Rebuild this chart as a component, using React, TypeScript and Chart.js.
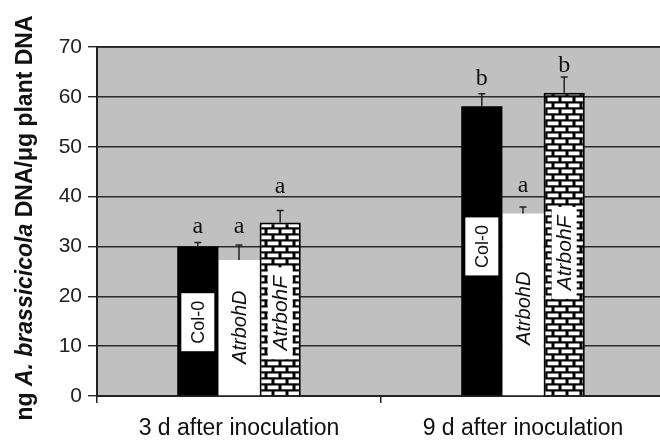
import React, { useEffect, useRef } from "react";
import { Chart, registerables } from "chart.js";

Chart.register(...registerables);

const categories = ["3 d after inoculation", "9 d after inoculation"];
const seriesNames = ["Col-0", "AtrbohD", "AtrbohF"];
const col0Values = [30.0, 58.1];
const atrbohDValues = [27.3, 36.6];
const atrbohFValues = [34.8, 60.8];
const col0Errors = [0.8, 2.5];
const atrbohDErrors = [3.0, 1.3];
const atrbohFErrors = [2.4, 3.2];
const col0Letters = ["a", "b"];
const atrbohDLetters = ["a", "a"];
const atrbohFLetters = ["a", "b"];
const yMin = 0;
const yMax = 70;
const yStep = 10;

// label placement (data units) — styling only
const letterPos = [
  [33.9, 63.7],
  [33.9, 42.1],
  [41.9, 66.3],
];
const namePos = [
  [14.8, 30.0],
  [13.8, 17.6],
  [16.6, 28.7],
];

const SANS = '"Liberation Sans", Arial, sans-serif';
const SERIF = '"Liberation Serif", "Times New Roman", serif';

function makeBrick(): CanvasPattern | string {
  const c = document.createElement("canvas");
  c.width = 14;
  c.height = 12;
  const g = c.getContext("2d");
  if (!g) return "#fff";
  g.fillStyle = "#000";
  g.fillRect(0, 0, 14, 12);
  g.fillStyle = "#fff";
  g.fillRect(1.5, 1.5, 11, 3.8);
  g.fillRect(-5.5, 7.5, 11, 3.8);
  g.fillRect(8.5, 7.5, 11, 3.8);
  const p = g.createPattern(c, "repeat");
  return p || "#fff";
}

export default function App() {
  const ref = useRef<HTMLCanvasElement>(null);
  useEffect(() => {
    document.body.style.margin = "0";
    document.body.style.overflow = "hidden";
    const canvas = ref.current;
    if (!canvas) return;
    const brick = makeBrick();
    const values = [col0Values, atrbohDValues, atrbohFValues];
    const errors = [col0Errors, atrbohDErrors, atrbohFErrors];
    const letters = [col0Letters, atrbohDLetters, atrbohFLetters];

    const decor = {
      id: "decor",
      beforeDraw(chart: any) {
        const { ctx, chartArea: a } = chart;
        ctx.save();
        ctx.fillStyle = "#ffffff";
        ctx.fillRect(0, 0, chart.width, chart.height);
        ctx.fillStyle = "#c0c0c0";
        ctx.fillRect(a.left, a.top, a.right - a.left, a.bottom - a.top);
        ctx.restore();
      },
      afterDatasetsDraw(chart: any) {
        const { ctx, chartArea: a } = chart;
        const ys = chart.scales.y;
        ctx.save();
        for (let d = 0; d < 3; d++) {
          const meta = chart.getDatasetMeta(d);
          meta.data.forEach((bar: any, i: number) => {
            const top = ys.getPixelForValue(values[d][i]);
            const et = ys.getPixelForValue(values[d][i] + errors[d][i]);
            ctx.strokeStyle = "#222";
            ctx.lineWidth = 1.5;
            ctx.beginPath();
            ctx.moveTo(bar.x, top);
            ctx.lineTo(bar.x, et);
            ctx.moveTo(bar.x - 3.5, et);
            ctx.lineTo(bar.x + 3.5, et);
            ctx.stroke();
            ctx.fillStyle = "#111";
            ctx.font = `24px ${SERIF}`;
            ctx.textAlign = "center";
            ctx.textBaseline = "middle";
            ctx.fillText(letters[d][i], bar.x, ys.getPixelForValue(letterPos[d][i]));

            const cy = ys.getPixelForValue(namePos[d][i]);
            ctx.save();
            if (d === 0) {
              ctx.fillStyle = "#fff";
              ctx.fillRect(bar.x - 16.5, cy - 29, 33, 58);
            } else if (d === 2) {
              ctx.fillStyle = "#fff";
              ctx.fillRect(bar.x - 12.5, cy - 46, 25, 92);
            }
            ctx.translate(bar.x, cy);
            ctx.rotate(-Math.PI / 2);
            ctx.fillStyle = "#111";
            ctx.textAlign = "center";
            ctx.textBaseline = "middle";
            ctx.font = d === 0 ? `18px ${SANS}` : `italic ${d === 1 ? 20 : 21}px ${SANS}`;
            ctx.fillText(seriesNames[d], 0, 1);
            ctx.restore();
          });
        }
        ctx.strokeStyle = "#222";
        ctx.lineWidth = 1.5;
        ctx.beginPath();
        ctx.moveTo(a.left, a.top);
        ctx.lineTo(a.right, a.top);
        ctx.stroke();
        ctx.restore();
      },
      afterDraw(chart: any) {
        const { ctx } = chart;
        ctx.save();
        ctx.translate(26, 218);
        ctx.rotate(-Math.PI / 2);
        ctx.textBaseline = "middle";
        ctx.fillStyle = "#111";
        const parts: [string, string][] = [
          ["ng ", `bold 23px ${SANS}`],
          ["A. brassicicola", `italic bold 23px ${SANS}`],
          [" DNA/\u03bcg plant DNA", `bold 23px ${SANS}`],
        ];
        let total = 0;
        for (const [t, f] of parts) {
          ctx.font = f;
          total += ctx.measureText(t).width;
        }
        let x = -total / 2;
        ctx.textAlign = "left";
        for (const [t, f] of parts) {
          ctx.font = f;
          ctx.fillText(t, x, 0);
          x += ctx.measureText(t).width;
        }
        ctx.restore();
      },
    };

    const chart = new Chart(canvas, {
      type: "bar",
      data: {
        labels: categories,
        datasets: [
          {
            label: seriesNames[0],
            data: col0Values,
            backgroundColor: "#000",
            borderColor: "#000",
            borderWidth: 0,
          },
          {
            label: seriesNames[1],
            data: atrbohDValues,
            backgroundColor: "#fff",
            borderWidth: 0,
          },
          {
            label: seriesNames[2],
            data: atrbohFValues,
            backgroundColor: brick as any,
            borderColor: "#000",
            borderWidth: 2,
          },
        ],
      },
      options: {
        responsive: false,
        animation: false,
        layout: { padding: { top: 47, right: 3, left: 0, bottom: 0 } },
        plugins: { legend: { display: false }, tooltip: { enabled: false }, title: { display: false } },
        datasets: { bar: { barPercentage: 1, categoryPercentage: 0.435 } },
        scales: {
          x: {
            afterFit: (s: any) => {
              s.height = 46;
            },
            grid: {
              offset: true,
              drawOnChartArea: false,
              drawTicks: true,
              tickLength: 7,
              color: "#222",
              lineWidth: 1.5,
            },
            border: { display: true, color: "#222", width: 2 },
            ticks: {
              color: "#111",
              padding: 12,
              font: { family: SANS, size: 23 },
            },
          },
          y: {
            min: yMin,
            max: yMax,
            afterFit: (s: any) => {
              s.width = 97;
            },
            grid: {
              color: "#2a2a2a",
              lineWidth: 1.4,
              drawTicks: true,
              tickLength: 9,
            },
            border: { display: true, color: "#222", width: 2 },
            ticks: {
              stepSize: yStep,
              color: "#222",
              padding: 6,
              font: { family: SANS, size: 21 },
            },
          },
        },
      },
      plugins: [decor],
    });
    return () => chart.destroy();
  }, []);

  return (
    <div style={{ position: "fixed", left: 0, top: 0, width: 668, height: 442, overflow: "hidden" }}>
      <canvas ref={ref} width={668} height={442} style={{ display: "block", width: 668, height: 442 }} />
    </div>
  );
}
